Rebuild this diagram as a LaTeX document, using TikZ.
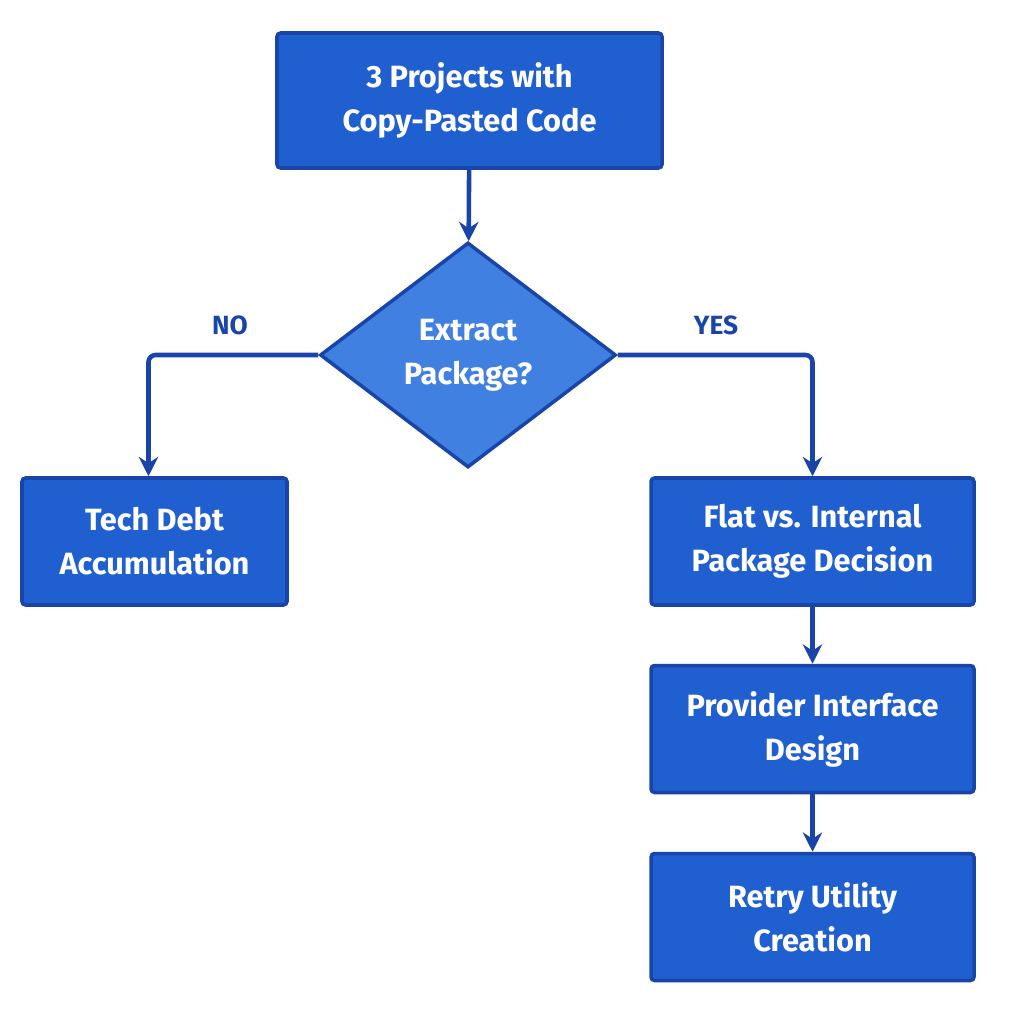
\documentclass[tikz,border=0pt]{standalone}
\usepackage{fontspec}
\setmainfont{Fira Sans}
\usetikzlibrary{shapes.geometric,arrows.meta}
\definecolor{boxfill}{HTML}{1F5FCF}
\definecolor{boxline}{HTML}{1A45A8}
\definecolor{diafill}{HTML}{3F80E0}
\tikzstyle{stage}=[rectangle,rounded corners=2pt,draw=boxline,line width=2pt,fill=boxfill,text=white,align=center,font=\bfseries\fontsize{17.5}{25}\selectfont]
\tikzstyle{choice}=[diamond,draw=boxline,line width=2pt,fill=diafill,text=white,align=center,font=\bfseries\fontsize{17.5}{25}\selectfont,inner sep=0pt]
\tikzstyle{flow}=[draw=boxline,line width=2.6pt,-{Stealth[length=11pt,width=11pt]}]
\tikzstyle{branch}=[text=boxline,font=\bfseries\fontsize{15}{18}\selectfont]

\begin{document}
\begin{tikzpicture}[x=0.02cm,y=-0.02cm]
  \useasboundingbox (0,0) rectangle (1024,1024);

  \node[stage,minimum width=385*0.02cm,minimum height=135*0.02cm] (code) at (469.5,100.5) {3 Projects with\\Copy-Pasted Code};
  \node[choice,minimum width=296*0.02cm,minimum height=225*0.02cm] (extract) at (468,355) {Extract\\Package?};
  \node[stage,minimum width=265*0.02cm,minimum height=127*0.02cm] (debt) at (154.5,541.5) {Tech Debt\\Accumulation};
  \node[stage,minimum width=323*0.02cm,minimum height=127*0.02cm] (flat) at (812.5,541.5) {Flat vs. Internal\\Package Decision};
  \node[stage,minimum width=323*0.02cm,minimum height=127*0.02cm] (provider) at (812.5,729) {Provider Interface\\Design};
  \node[stage,minimum width=323*0.02cm,minimum height=127*0.02cm] (retry) at (812.5,917) {Retry Utility\\Creation};

  \node[branch] (no) at (230,325) {NO};
  \node[branch] (yes) at (716,325) {YES};

  % connectors
  \draw[flow] (code) -- (extract);
  \draw[flow,rounded corners=4pt] (extract.west) -| ([xshift=-6*0.02cm]debt.north);
  \draw[flow,rounded corners=4pt] (extract.east) -| (flat.north);
  \draw[flow] (flat) -- (provider);
  \draw[flow] (provider) -- (retry);
\end{tikzpicture}
\end{document}
